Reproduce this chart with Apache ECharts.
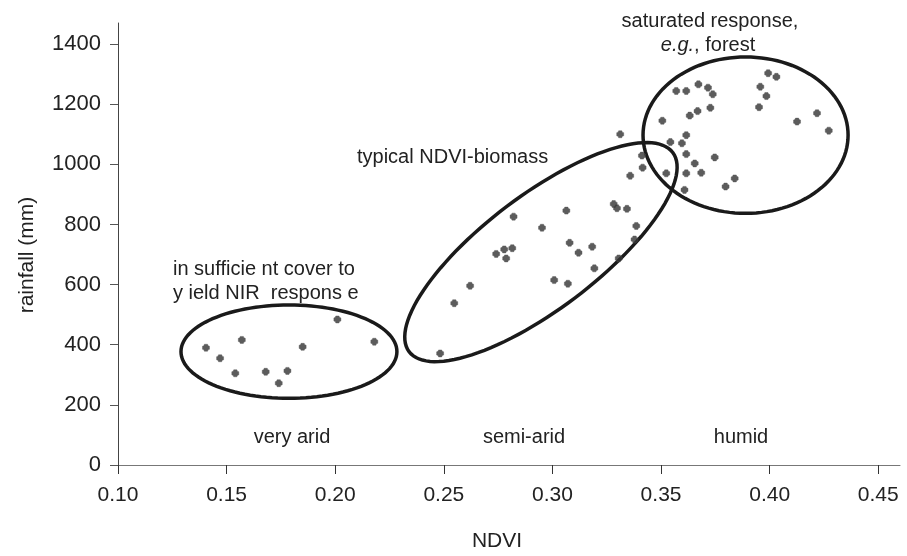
<!DOCTYPE html>
<html>
<head>
<meta charset="utf-8">
<script src="https://cdn.jsdelivr.net/npm/echarts@6/dist/echarts.min.js"></script>
<style>
html,body{margin:0;padding:0;background:#fff;}
#chart{width:907px;height:556px;}
</style>
</head>
<body>
<div id="chart"></div>
<script>
// ---- data (NDVI, rainfall mm) ----
const veryArid = [
  [0.1405, 390], [0.147, 355], [0.157, 416], [0.154, 305], [0.168, 310],
  [0.174, 272], [0.178, 313], [0.185, 393], [0.201, 484], [0.218, 410]
];
const semiArid = [
  [0.2483, 371], [0.2548, 538], [0.2621, 596], [0.2741, 702], [0.2778, 717],
  [0.2787, 687], [0.2815, 721], [0.2821, 826], [0.2952, 789], [0.3008, 615],
  [0.3064, 846], [0.3071, 603], [0.3079, 739], [0.3120, 706], [0.3183, 726],
  [0.3193, 654], [0.3282, 868], [0.3297, 854], [0.3343, 852], [0.3305, 687],
  [0.3378, 750], [0.3386, 795], [0.3358, 962], [0.3415, 989], [0.3412, 1029],
  [0.3312, 1100]
];
const humid = [
  [0.3570, 1244], [0.3616, 1244], [0.3672, 1266], [0.3716, 1255], [0.3738, 1233],
  [0.3727, 1188], [0.3668, 1177], [0.3632, 1162], [0.3506, 1145], [0.3616, 1097],
  [0.3543, 1074], [0.3596, 1070], [0.3616, 1034], [0.3655, 1003], [0.3685, 972],
  [0.3747, 1023], [0.3524, 970], [0.3616, 970], [0.3608, 915], [0.3797, 926],
  [0.3839, 953], [0.3951, 1190], [0.3957, 1258], [0.3985, 1227], [0.3993, 1303],
  [0.4031, 1291], [0.4126, 1142], [0.4218, 1170], [0.4272, 1112]
];
const xTicks = [0.10, 0.15, 0.20, 0.25, 0.30, 0.35, 0.40, 0.45];
const yTicks = [0, 200, 400, 600, 800, 1000, 1200, 1400];
// ellipses: [centre, semi-axis A tip, semi-axis B tip] in data units
const ellipses = [
  [[0.1787, 377], [0.2284, 377], [0.1787, 532]],
  [[0.2947, 708], [0.3554, 1039], [0.2790, 860]],
  [[0.3889, 1097], [0.4361, 1097], [0.3889, 1357]]
];

const FONT = 'Liberation Sans, Arial, sans-serif';
const TXT = '#222';

const chart = echarts.init(document.getElementById('chart'));

const markerPath = 'path://M2.2 0H5.8L6.4 1.6 8 2.2V5.8L6.4 6.4 5.8 8H2.2L1.6 6.4 0 5.8V2.2L1.6 1.6Z';

function scatter(name, data) {
  return {
    name: name, type: 'scatter', data: data,
    symbol: markerPath, symbolSize: 7,
    itemStyle: { color: '#333', borderColor: '#555', borderWidth: 0.5 },
    z: 3, silent: true
  };
}

const option = {
  animation: false,
  backgroundColor: '#fff',
  grid: { left: 118, top: 23, right: 7, bottom: 91, containLabel: false },
  xAxis: {
    type: 'value', min: 0.1, max: 0.46,
    axisLine: { show: true, lineStyle: { color: '#777', width: 1 } },
    axisTick: { show: true, length: 9, customValues: xTicks, lineStyle: { color: '#333' } },
    axisLabel: {
      customValues: xTicks, margin: 20, color: TXT, fontFamily: FONT, fontSize: 21,
      formatter: v => Number(v).toFixed(2)
    },
    splitLine: { show: false }
  },
  yAxis: {
    type: 'value', min: 0, max: 1470,
    axisLine: { show: true, lineStyle: { color: '#444', width: 1 } },
    axisTick: { show: true, length: 8, customValues: yTicks, lineStyle: { color: '#555' } },
    axisLabel: {
      customValues: yTicks, margin: 17, color: TXT, fontFamily: FONT, fontSize: 22,
      formatter: v => String(Math.round(v))
    },
    splitLine: { show: false }
  },
  series: [
    {
      type: 'custom', silent: true, z: 2,
      data: ellipses.map((e, i) => [i]),
      renderItem: function (params, api) {
        const e = ellipses[params.dataIndex];
        const c = api.coord(e[0]);
        const a = api.coord(e[1]);
        const b = api.coord(e[2]);
        const ax = a[0] - c[0], ay = a[1] - c[1];
        const bx = b[0] - c[0], by = b[1] - c[1];
        const pts = [];
        for (let k = 0; k < 120; k++) {
          const t = k / 120 * Math.PI * 2;
          pts.push([c[0] + Math.cos(t) * ax + Math.sin(t) * bx,
                    c[1] + Math.cos(t) * ay + Math.sin(t) * by]);
        }
        return {
          type: 'polygon',
          shape: { points: pts },
          style: { fill: 'none', stroke: '#1a1a1a', lineWidth: 3.5 }
        };
      }
    },
    scatter('very arid', veryArid),
    scatter('semi-arid', semiArid),
    scatter('humid', humid)
  ],
  graphic: [
    { type: 'text', x: 27, y: 255, rotation: Math.PI / 2,
      style: { text: 'rainfall (mm)', fill: TXT, font: '21px ' + FONT, textAlign: 'center', textVerticalAlign: 'middle' } },
    { type: 'text', x: 497, y: 541,
      style: { text: 'NDVI', fill: TXT, font: '21px ' + FONT, textAlign: 'center', textVerticalAlign: 'middle' } },
    { type: 'text', x: 292, y: 437,
      style: { text: 'very arid', fill: TXT, font: '20px ' + FONT, textAlign: 'center', textVerticalAlign: 'middle' } },
    { type: 'text', x: 524, y: 437,
      style: { text: 'semi-arid', fill: TXT, font: '20px ' + FONT, textAlign: 'center', textVerticalAlign: 'middle' } },
    { type: 'text', x: 741, y: 437,
      style: { text: 'humid', fill: TXT, font: '20px ' + FONT, textAlign: 'center', textVerticalAlign: 'middle' } },
    { type: 'text', x: 173, y: 269,
      style: { text: 'in sufficie nt cover to', fill: TXT, font: '20px ' + FONT, textAlign: 'left', textVerticalAlign: 'middle' } },
    { type: 'text', x: 173, y: 293,
      style: { text: 'y ield NIR  respons e', fill: TXT, font: '20px ' + FONT, textAlign: 'left', textVerticalAlign: 'middle' } },
    { type: 'text', x: 357, y: 157,
      style: { text: 'typical NDVI-biomass', fill: TXT, font: '20px ' + FONT, textAlign: 'left', textVerticalAlign: 'middle' } },
    { type: 'text', x: 710, y: 21,
      style: { text: 'saturated response,', fill: TXT, font: '20px ' + FONT, textAlign: 'center', textVerticalAlign: 'middle' } },
    { type: 'text', x: 708, y: 45,
      style: {
        text: '{i|e.g.}, forest', fill: TXT, font: '20px ' + FONT, textAlign: 'center', textVerticalAlign: 'middle',
        rich: { i: { fontStyle: 'italic', fontFamily: FONT, fontSize: 20, fill: TXT } }
      } }
  ]
};

chart.setOption(option);
</script>
</body>
</html>
